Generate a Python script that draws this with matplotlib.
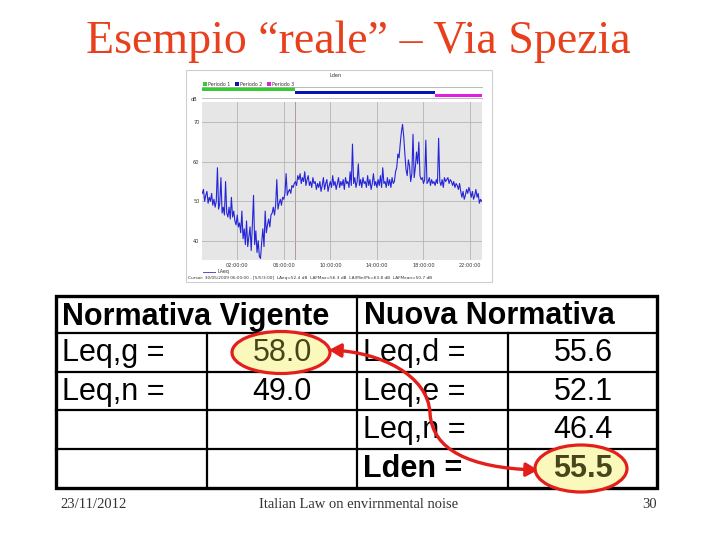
import numpy as np
import matplotlib.pyplot as plt
from matplotlib.patches import Ellipse, FancyArrowPatch, Rectangle
from matplotlib.path import Path

# slide text
title = "Esempio \u201creale\u201d \u2013 Via Spezia"
footer_date = "23/11/2012"
footer_text = "Italian Law on envirnmental noise"
page_no = "30"

# LAeq time history, one value every 6 minutes from 23:00
start_hour = 23
step_h = 0.1
laeq = [
    52, 53, 50, 51.5, 52.5, 49.5, 51, 50, 52, 49,
    50.5, 48.5, 50, 58.5, 48, 49.5, 56, 47, 48.5, 46.5,
    55, 47, 46, 48.5, 45.5, 51, 46, 47.5, 45, 44,
    46.5, 43.5, 44.5, 42, 47.5, 40.5, 43, 39, 45, 38.5,
    41, 43.5, 37.5, 44, 51.5, 39, 42.5, 37, 40, 36,
    35.5, 39.5, 43, 38.5, 47.5, 42, 44, 45.5, 43.5, 46.5,
    47, 48.5, 46.5, 49, 55.5, 48, 49.5, 50.5, 49, 51,
    50.5, 52, 57, 51.5, 52.5, 53, 52, 54, 53.5, 54.5,
    55, 54, 56.5, 55.5, 57, 54.5, 56, 55, 57.5, 54,
    55.5, 56.5, 54, 55, 53.5, 56, 54.5, 55, 53, 54.5,
    53.5, 55, 52.5, 54, 56, 53, 54.5, 55.5, 52.5, 54,
    55, 53.5, 56.5, 54, 55, 53, 54.5, 56, 53.5, 55,
    54, 55.5, 53, 56, 54.5, 55, 53.5, 57.5, 54, 64.5,
    54.5, 56, 53.5, 55, 59.5, 54, 55.5, 53.5, 56, 54.5,
    55, 53.5, 56.5, 54, 55.5, 53, 54.5, 57, 54, 55,
    53.5, 55.5, 54, 56.5, 53.5, 58.5, 54.5, 55, 53.5, 56,
    54, 55.5, 53.5, 56, 54.5, 55, 57.5, 58.5, 62, 61,
    64.5, 67.5, 69.5, 66.5, 62, 58, 56.5, 60.5, 59, 55,
    57, 67, 56, 58.5, 62.5, 59.5, 65, 56.5, 55.5, 56,
    54.5, 55.5, 65.5, 54.5, 55, 56, 54, 55.5, 54.5, 55,
    54, 55.5, 54.5, 66, 55, 54, 55.5, 53.5, 56, 55,
    55.5, 56, 54.5, 55.5, 55, 54, 55, 53.5, 54.5, 54,
    53, 54.5, 52.5, 51, 52.5, 50.5, 51.5, 53, 52, 53.5,
    52.5, 51, 52.5, 50.5, 51.5, 53, 51, 52, 49.5, 50.5,
    50,
]

period_names = ["Periodo 1", "Periodo 2", "Periodo 3"]
period_start = [0, 8, 20]
period_end = [8, 20, 24]
period_colors = ["#33cc33", "#0a14b4", "#e020e0"]

tick_times = ["02:00:00", "06:00:00", "10:00:00", "14:00:00", "18:00:00", "22:00:00"]
y_ticks = [40, 50, 60, 70]
cursor_text = ("Cursor: 30/05/2009 06:00:00 - [5/5/3:00]  LAeq=52.4 dB  LAFMax=56.3 dB  "
               "LA(Min)Pk=63.8 dB  LAFMean=50.7 dB")

# table contents
head_left = "Normativa Vigente"
head_right = "Nuova Normativa"
vigente_labels = ["Leq,g =", "Leq,n =", "", ""]
vigente_values = ["58.0", "49.0", "", ""]
nuova_labels = ["Leq,d =", "Leq,e =", "Leq,n =", "Lden ="]
nuova_values = ["55.6", "52.1", "46.4", "55.5"]

W, H = 720, 540
fig = plt.figure(figsize=(7.2, 5.4), dpi=100)
bg = fig.add_axes([0, 0, 1, 1])
bg.set_xlim(0, W)
bg.set_ylim(H, 0)
bg.axis("off")

red = "#e41e1a"

bg.text(358, 42, title, ha="center", va="center", fontsize=33,
        family="Liberation Serif", color="#e8401c")

# footer
foot = dict(fontsize=10.5, family="Liberation Serif", color="#333333", va="center")
bg.text(60, 505, footer_date, ha="left", **foot)
bg.text(359, 505, footer_text, ha="center", **foot)
bg.text(657, 505, page_no, ha="right", **foot)

# chart panel
bg.add_patch(Rectangle((186, 70), 306, 212, facecolor="white", edgecolor="#cfcfcf", lw=0.8))
bg.text(336, 75.5, "Lden", fontsize=3.6, ha="center", va="center", color="#333333")
lx = [202.5, 234.5, 266.5]
for i, name in enumerate(period_names):
    bg.add_patch(Rectangle((lx[i], 82.3), 4.2, 3.4, facecolor=period_colors[i], edgecolor="none"))
    bg.text(lx[i] + 5.5, 84, name, fontsize=3.4, va="center", color="#333333")
bg.text(194.5, 99.5, "dB", fontsize=3.6, ha="center", va="center", color="#333333")
bg.plot([203, 215], [271.5, 271.5], color="#5050c8", lw=0.7)
bg.text(218, 271.5, "LAeq", fontsize=3.4, va="center", color="#333333")
bg.text(188, 278, cursor_text, fontsize=3.1, va="center", color="#333333")

# period bars
axp = fig.add_axes([202.3 / W, 1 - 98.3 / H, 279.4 / W, 11 / H])
for i in range(len(period_names)):
    axp.barh(i + 0.5, period_end[i] - period_start[i], left=period_start[i],
             height=0.98, color=period_colors[i])
axp.set_xlim(0, 24)
axp.set_ylim(3.25, 0)
axp.set_xticks([])
axp.set_yticks([])
axp.set_facecolor("white")
for s in ["left", "right"]:
    axp.spines[s].set_visible(False)
for s in ["top", "bottom"]:
    axp.spines[s].set_color("#b0b0b0")
    axp.spines[s].set_linewidth(0.6)

# time history
ax = fig.add_axes([202.3 / W, 1 - 260 / H, 279.4 / W, 157.7 / H])
t = np.arange(len(laeq)) * step_h
ax.set_facecolor("#e6e6e6")
xt = [(int(s[:2]) - start_hour) % 24 for s in tick_times]
for x in xt:
    ax.axvline(x, color="#b4b4b4", lw=0.6, zorder=1)
ax.axvline(period_start[1], color="#b09a9a", lw=0.7, zorder=1)
for y in y_ticks:
    ax.axhline(y, color="#b4b4b4", lw=0.6, zorder=1)
ax.plot(t, laeq, color="#2525d8", lw=0.8, zorder=3)
ax.set_xlim(0, 24)
ax.set_ylim(35.1, 75.1)
ax.set_xticks(xt)
ax.set_xticklabels(tick_times)
ax.set_yticks(y_ticks)
ax.tick_params(labelsize=3.6, length=0, pad=2, colors="#333333")
for s in ax.spines.values():
    s.set_visible(False)

# table
cols = [56, 206.5, 357, 507.5, 657]
rows = [296, 333, 371.5, 410, 448.5, 488]
lw_in, lw_out = 1.6, 2.4
for y in rows[1:-1]:
    bg.plot([cols[0], cols[-1]], [y, y], color="black", lw=lw_in, zorder=2)
bg.plot([cols[2], cols[2]], [rows[0], rows[-1]], color="black", lw=lw_in, zorder=2)
for x in (cols[1], cols[3]):
    bg.plot([x, x], [rows[1], rows[-1]], color="black", lw=lw_in, zorder=2)
bg.add_patch(Rectangle((cols[0], rows[0]), cols[-1] - cols[0], rows[-1] - rows[0],
                       fill=False, edgecolor="black", lw=lw_out, zorder=2))

tfont = dict(family="Liberation Sans", fontsize=22, va="center", zorder=5)
hy = (rows[0] + rows[1]) / 2 + 2
bg.text(cols[0] + 6, hy, head_left, ha="left", fontweight="bold", **tfont)
bg.text(cols[2] + 7, hy, head_right, ha="left", fontweight="bold", **tfont)

# highlight ellipses under the text
bg.add_patch(Ellipse((281, 352.5), 98, 42, facecolor="#fbf8bc", edgecolor=red, lw=2.3, zorder=3))
bg.add_patch(Ellipse((581, 468.5), 92, 47, facecolor="#fbf8bc", edgecolor=red, lw=2.3, zorder=3))

for i in range(len(nuova_labels)):
    cy = (rows[i + 1] + rows[i + 2]) / 2 + 1
    bold = "bold" if nuova_labels[i].startswith("Lden") else "normal"
    bg.text(cols[0] + 6, cy, vigente_labels[i], ha="left", **tfont)
    bg.text(312, cy, vigente_values[i], ha="right",
            color="#46461a" if i == 0 else "black", **tfont)
    bg.text(cols[2] + 6, cy, nuova_labels[i], ha="left", fontweight=bold, **tfont)
    bg.text(613, cy, nuova_values[i], ha="right", fontweight=bold,
            color="#46461a" if bold == "bold" else "black", **tfont)

# curved double arrow linking the two values
verts = [(329, 350), (380, 352), (428, 375), (430, 413),
         (432, 450), (470, 468), (538, 470)]
codes = [Path.MOVETO, Path.CURVE4, Path.CURVE4, Path.CURVE4,
         Path.CURVE4, Path.CURVE4, Path.CURVE4]
arrow = FancyArrowPatch(path=Path(verts, codes), arrowstyle="<|-|>,head_length=7,head_width=4",
                        color=red, lw=2.4, zorder=6)
bg.add_patch(arrow)

fig.savefig("out.png", dpi=100)
